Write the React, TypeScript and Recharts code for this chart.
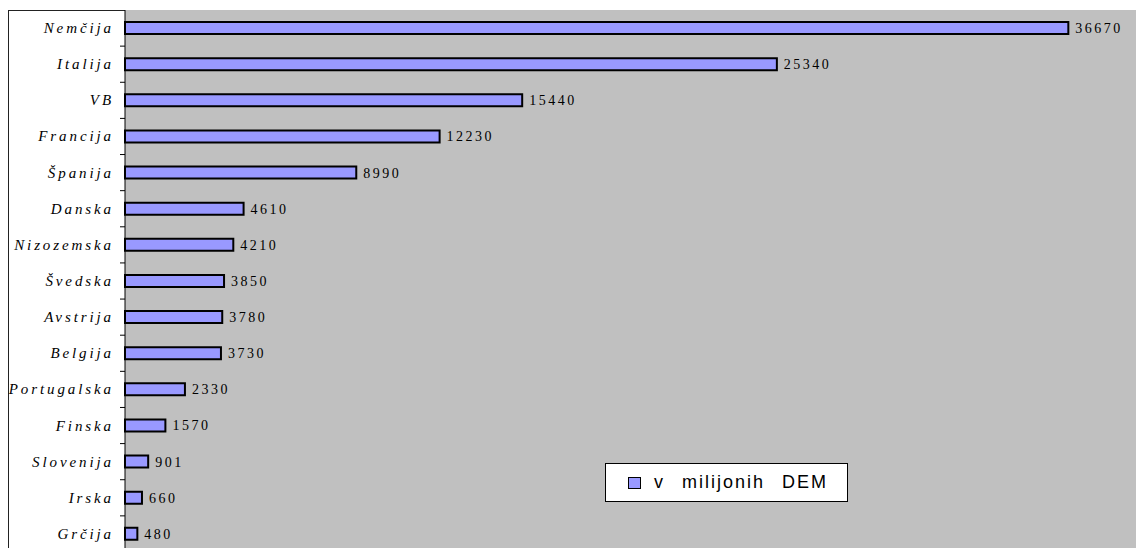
import { Bar, BarChart, CartesianGrid, LabelList, Legend, XAxis, YAxis } from "recharts";

const countries = [
  "Nemčija",
  "Italija",
  "VB",
  "Francija",
  "Španija",
  "Danska",
  "Nizozemska",
  "Švedska",
  "Avstrija",
  "Belgija",
  "Portugalska",
  "Finska",
  "Slovenija",
  "Irska",
  "Grčija",
];
const values = [36670, 25340, 15440, 12230, 8990, 4610, 4210, 3850, 3780, 3730, 2330, 1570, 901, 660, 480];
const seriesName = "v milijonih DEM";

const rows = countries.map((c, i) => ({ country: c, value: values[i] }));

const serif = "'Liberation Serif', 'Times New Roman', serif";
const BAND = 542 / countries.length;

function CountryTick(props: any) {
  const { x, y, payload } = props;
  // x comes in at axis - tickSize - tickMargin (8px left of the axis line)
  return (
    <g>
      <text
        x={x - 3}
        y={y}
        dy={5}
        textAnchor="end"
        fontFamily={serif}
        fontStyle="italic"
        fontSize={15}
        letterSpacing={2.9}
        fill="#000"
      >
        {payload.value}
      </text>
      <line x1={x + 3} x2={x + 8} y1={y + BAND / 2} y2={y + BAND / 2} stroke="#000" />
    </g>
  );
}

function LegendBox() {
  return (
    <div
      style={{
        width: 241,
        height: 37,
        background: "#fff",
        border: "1px solid #000",
        display: "flex",
        alignItems: "center",
        boxSizing: "content-box",
      }}
    >
      <span
        style={{
          display: "inline-block",
          width: 11,
          height: 10,
          background: "#9999FF",
          border: "1.5px solid #000",
          marginLeft: 22,
          marginRight: 13,
        }}
      />
      <span
        style={{
          fontFamily: "'Liberation Sans', Arial, sans-serif",
          fontSize: 18,
          letterSpacing: 2,
          wordSpacing: 10,
          color: "#000",
        }}
      >
        {seriesName}
      </span>
    </div>
  );
}

export default function App() {
  return (
    <div style={{ position: "absolute", left: 0, top: 0, width: 1136, height: 548, overflow: "hidden", background: "#fff" }}>
      <div
        style={{
          position: "absolute",
          left: 8,
          top: 10,
          width: 1200,
          height: 600,
          borderLeft: "1px solid #222",
          borderTop: "1px solid #222",
        }}
      />
      <div style={{ position: "absolute", left: 0, top: 0 }}>
        <BarChart
          width={1160}
          height={552}
          data={rows}
          layout="vertical"
          margin={{ top: 10, right: 6, left: 0, bottom: 0 }}
        >
          <CartesianGrid fill="#C0C0C0" horizontal={false} vertical={false} />
          <XAxis type="number" domain={[0, 40000]} hide />
          <YAxis
            type="category"
            dataKey="country"
            width={125}
            axisLine={{ stroke: "#000" }}
            tickLine={false}
            tick={<CountryTick />}
            interval={0}
          />
          <Legend
            layout="horizontal"
            verticalAlign="middle"
            align="center"
            content={() => <LegendBox />}
            wrapperStyle={{ position: "absolute", left: 605, top: 463, width: 243, height: 39 }}
          />
          <Bar
            dataKey="value"
            name={seriesName}
            fill="#9999FF"
            stroke="#000"
            strokeWidth={2}
            barSize={12}
            isAnimationActive={false}
          >
            <LabelList
              dataKey="value"
              position="right"
              offset={7}
              fontFamily={serif}
              fontSize={14}
              letterSpacing={2.5}
              fill="#000"
            />
          </Bar>
        </BarChart>
      </div>
    </div>
  );
}
